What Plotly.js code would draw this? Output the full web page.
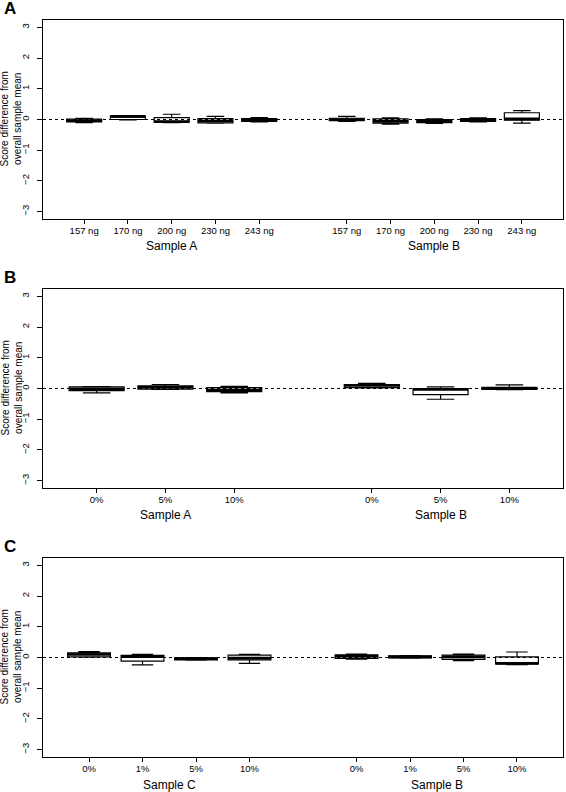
<!DOCTYPE html>
<html>
<head>
<meta charset="utf-8">
<script src="https://cdn.plot.ly/plotly-3.0.1.min.js"></script>
<style>html,body{margin:0;padding:0;background:#fff;}#plot{width:566px;height:792px;}</style>
</head>
<body>
<div id="plot"></div>
<script>
// ---------- data ----------
// Panel A: DNA input amount
const labelsA = ['157 ng','170 ng','200 ng','230 ng','243 ng','157 ng','170 ng','200 ng','230 ng','243 ng'];
const posA    = [1,2,3,4,5,7,8,9,10,11];
const groupsA = ['Sample A','Sample B'];
const groupPosA = [3,9];
const lowA = [-0.10,-0.01,-0.10,-0.12,-0.08, -0.06,-0.15,-0.13,-0.08,-0.12];
const q1A  = [-0.08, 0.00,-0.09,-0.11,-0.06, -0.04,-0.12,-0.10,-0.06,-0.02];
const medA = [-0.04, 0.10,-0.07,-0.05,-0.02,  0.00,-0.06,-0.05,-0.02, 0.02];
const q3A  = [ 0.01, 0.11, 0.06, 0.03, 0.03,  0.04, 0.02, 0.00, 0.03, 0.22];
const upA  = [ 0.04, 0.12, 0.17, 0.10, 0.06,  0.10, 0.05, 0.02, 0.05, 0.29];

// Panel B
const labelsB = ['0%','5%','10%','0%','5%','10%'];
const posB    = [1,2,3,5,6,7];
const groupsB = ['Sample A','Sample B'];
const groupPosB = [2,6];
const lowB = [-0.14,-0.03,-0.14,  0.02,-0.35,-0.04];
const q1B  = [-0.07,-0.02,-0.10,  0.03,-0.20,-0.03];
const medB = [-0.01, 0.04,-0.05,  0.10,-0.03, 0.00];
const q3B  = [ 0.05, 0.09, 0.03,  0.13, 0.00, 0.04];
const upB  = [ 0.06, 0.13, 0.07,  0.17, 0.05, 0.12];

// Panel C
const labelsC = ['0%','1%','5%','10%','0%','1%','5%','10%'];
const posC    = [1,2,3,4,6,7,8,9];
const groupsC = ['Sample C','Sample B'];
const groupPosC = [2.5,7.5];
const lowC = [ 0.01,-0.24,-0.09,-0.19, -0.05,-0.02,-0.10,-0.23];
const q1C  = [ 0.02,-0.12,-0.08,-0.08, -0.03,-0.01,-0.06,-0.21];
const medC = [ 0.10, 0.03,-0.04,-0.02,  0.04, 0.02, 0.02,-0.19];
const q3C  = [ 0.15, 0.07,-0.01, 0.08,  0.09, 0.05, 0.08, 0.02];
const upC  = [ 0.19, 0.10, 0.00, 0.10,  0.11, 0.06, 0.11, 0.18];

const yTicks = [-3,-2,-1,0,1,2,3];
const panelLetters = ['A','B','C'];
const yTitle = 'Score difference from<br>overall sample mean';

// ---------- build ----------
const FONT = 'Liberation Sans, Arial, Helvetica, sans-serif';
const BOXW = 0.8;
const panels = [
  {pos:posA, labels:labelsA, low:lowA, q1:q1A, med:medA, q3:q3A, up:upA, groups:groupsA, gpos:groupPosA, n:11},
  {pos:posB, labels:labelsB, low:lowB, q1:q1B, med:medB, q3:q3B, up:upB, groups:groupsB, gpos:groupPosB, n:7},
  {pos:posC, labels:labelsC, low:lowC, q1:q1C, med:medC, q3:q3C, up:upC, groups:groupsC, gpos:groupPosC, n:9}
];
const domains = [[0.730,1.0],[0.365,0.635],[0.0,0.270]];

const data = [];
const layout = {
  width:566, height:792,
  margin:{l:43, r:3, t:20, b:35},
  paper_bgcolor:'#fff', plot_bgcolor:'#fff',
  showlegend:false,
  font:{family:FONT, color:'#000', size:10},
  shapes:[], annotations:[]
};

panels.forEach((p, i) => {
  const k = i === 0 ? '' : String(i+1);
  const xa = 'x'+k, ya = 'y'+k;
  data.push({
    type:'box', x:p.pos, q1:p.q1, median:p.med, q3:p.q3,
    lowerfence:p.low, upperfence:p.up,
    width:BOXW, whiskerwidth:0.5, boxpoints:false,
    fillcolor:'#fff', line:{color:'#000', width:1.2},
    xaxis:xa, yaxis:ya, hoverinfo:'skip'
  });
  // thick median lines (like R boxplot)
  const mx = [], my = [];
  p.pos.forEach((v, j) => { mx.push(v-BOXW/2, v+BOXW/2, null); my.push(p.med[j], p.med[j], null); });
  data.push({type:'scatter', mode:'lines', x:mx, y:my, line:{color:'#000', width:2.6},
             xaxis:xa, yaxis:ya, hoverinfo:'skip', connectgaps:false});

  const pad = (p.n)*0.04;
  layout['xaxis'+k] = {
    domain:[0,1], anchor:ya, range:[0.5-pad, p.n+0.5+pad],
    tickmode:'array', tickvals:p.pos, ticktext:p.labels,
    ticks:'outside', ticklen:4, tickwidth:1, tickcolor:'#000',
    ticklabelstandoff:-1,
    showgrid:false, zeroline:false, showline:true, mirror:true,
    linecolor:'#000', linewidth:1,
    tickfont:{family:FONT, size:9.5, color:'#000'}
  };
  layout['yaxis'+k] = {
    domain:domains[i], anchor:xa, range:[-3.24, 3.24],
    tickmode:'array', tickvals:yTicks, tickangle:-90,
    ticks:'outside', ticklen:5, tickwidth:1, tickcolor:'#000',
    ticklabelstandoff:4,
    showgrid:false, zeroline:false, showline:true, mirror:true,
    linecolor:'#000', linewidth:1,
    tickfont:{family:FONT, size:9.5, color:'#000'}
  };
  // dashed reference line at 0
  layout.shapes.push({type:'line', xref:xa+' domain', yref:ya, x0:0, x1:1, y0:0, y1:0,
                      line:{color:'#000', width:1.1, dash:'3px,3px'}, layer:'above'});
  // group labels
  p.groups.forEach((g, j) => {
    layout.annotations.push({text:g, xref:xa, yref:ya+' domain', x:p.gpos[j], y:0,
      yanchor:'middle', xanchor:'center', yshift:-27.5, showarrow:false,
      font:{family:FONT, size:12, color:'#000'}});
  });
  // y-axis title
  layout.annotations.push({text:yTitle, xref:'paper', yref:ya+' domain', x:0, y:0.5,
    xanchor:'center', yanchor:'middle', xshift:-32, textangle:-90, showarrow:false,
    font:{family:FONT, size:10, color:'#000'}});
  // panel letter
  layout.annotations.push({text:'<b>'+panelLetters[i]+'</b>', xref:'paper', yref:ya+' domain',
    x:0, y:1, xanchor:'center', yanchor:'middle', xshift:-33.5, yshift:12, showarrow:false,
    font:{family:FONT, size:17, color:'#000'}});
});

Plotly.newPlot('plot', data, layout, {staticPlot:true, displayModeBar:false});
</script>
</body>
</html>
